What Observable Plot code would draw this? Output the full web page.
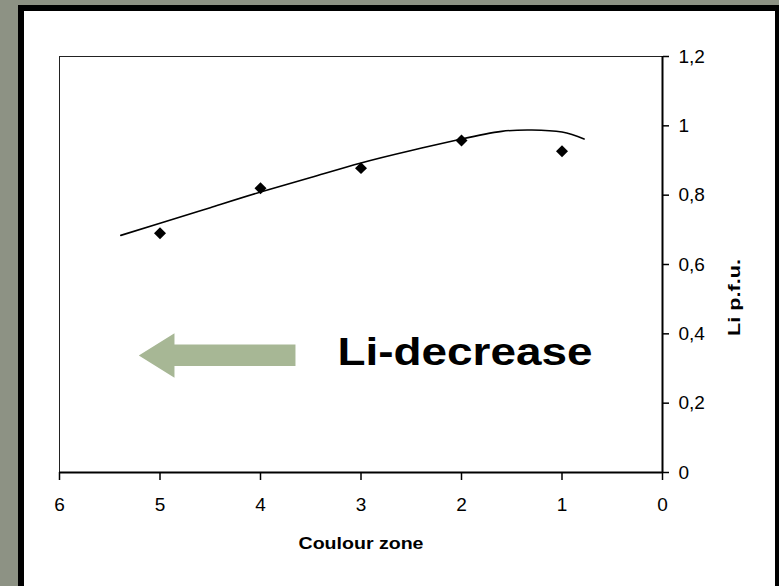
<!DOCTYPE html>
<html>
<head>
<meta charset="utf-8">
<script src="https://cdn.jsdelivr.net/npm/d3@7"></script>
<script src="https://cdn.jsdelivr.net/npm/@observablehq/plot@0.6"></script>
<style>
  html, body { margin: 0; padding: 0; width: 779px; height: 586px; overflow: hidden; background: #8d9284; }
  #panel { position: absolute; left: 18px; top: 5px; width: 751px; height: 620px; background: #fff;
           border-left: 6px solid #000; border-top: 6px solid #000; border-right: 6px solid #000; }
  #chart { position: absolute; left: 0; top: 0; }
  #chart svg, #chart svg text { font-family: "Liberation Sans", Arial, sans-serif !important; }
</style>
</head>
<body>
<div id="panel"></div>
<div id="chart"></div>
<script>
// Measured points (colour zone vs Li p.f.u.)
const zone = [5, 4, 3, 2, 1];
const li = [0.69, 0.82, 0.878, 0.958, 0.927];

// Trend line
const trendZone = [5.39, 5, 4.5, 4, 3.5, 3, 2.5, 2, 1.6, 1.3, 1, 0.78];
const trendLi = [0.684, 0.719, 0.764, 0.809, 0.851, 0.893, 0.929, 0.962, 0.984, 0.988, 0.982, 0.962];

// Tick values
const xTicks = [6, 5, 4, 3, 2, 1, 0];
const yTicks = [0, 0.2, 0.4, 0.6, 0.8, 1, 1.2];

// Annotation: arrow outline (data coordinates) and label
const arrowZone = [5.211, 4.856, 4.856, 3.652, 3.652, 4.856, 4.856, 5.211];
const arrowLi = [0.3375, 0.402, 0.369, 0.369, 0.307, 0.307, 0.273, 0.3375];
const noteText = ["Li-decrease"];
const noteZone = [3.234];
const noteLi = [0.309];

const xLabel = "Coulour zone";
const yLabel = "Li p.f.u.";

const points = zone.map((z, i) => ({z, v: li[i]}));
const trend = trendZone.map((z, i) => ({z, v: trendLi[i]}));
const arrow = arrowZone.map((z, i) => ({z, v: arrowLi[i]}));
const notes = noteText.map((t, i) => ({t, z: noteZone[i], v: noteLi[i]}));

const fmt = d => String(+d.toFixed(1)).replace(".", ",");

const plot = Plot.plot({
  width: 779,
  height: 586,
  marginLeft: 59,
  marginRight: 117,
  marginTop: 56,
  marginBottom: 114,
  style: {background: "transparent", fontSize: "19px", color: "#000"},
  x: {domain: [6, 0]},
  y: {domain: [0, 1.2]},
  marks: [
    Plot.ruleY([1.2], {stroke: "#222", strokeWidth: 1}),
    Plot.ruleX([6], {stroke: "#222", strokeWidth: 1}),
    Plot.line(arrow, {x: "z", y: "v", fill: "#a7b795", stroke: "none", curve: "linear"}),
    Plot.line(trend, {x: "z", y: "v", stroke: "#000", strokeWidth: 1.6, curve: "natural"}),
    Plot.dot(points, {x: "z", y: "v", symbol: "diamond2", r: 5.4, fill: "#000", stroke: "none"}),
    Plot.text(notes, {x: "z", y: "v", text: "t", textAnchor: "start", lineAnchor: "bottom", fontSize: 38, fontWeight: "bold", fill: "#000"}),
    Plot.axisX({ticks: xTicks, tickSize: 8, tickPadding: 17, strokeWidth: 1.5, label: null, tickFormat: d => String(d)}),
    Plot.axisY({anchor: "right", ticks: yTicks, tickSize: 6, tickPadding: 10, strokeWidth: 1.5, label: null, tickFormat: fmt}),
    Plot.ruleY([0], {stroke: "#000", strokeWidth: 2}),
    Plot.ruleX([0], {stroke: "#000", strokeWidth: 2}),
    Plot.text([xLabel], {frameAnchor: "bottom", dy: 76, lineAnchor: "bottom", fontSize: 16.5, fontWeight: "bold", fill: "#000"}),
    Plot.text([yLabel], {frameAnchor: "right", dx: 72, dy: -5.5, rotate: -90, fontSize: 16.5, fontWeight: "bold", fill: "#000"})
  ]
});

document.getElementById("chart").appendChild(plot);

const svg = d3.select(plot);
svg.selectAll("text").filter(function() { return this.textContent === "Li-decrease"; })
  .attr("textLength", 255).attr("lengthAdjust", "spacingAndGlyphs");
svg.selectAll("text").filter(function() { return this.textContent === "Coulour zone"; })
  .attr("textLength", 125).attr("lengthAdjust", "spacingAndGlyphs");
svg.selectAll("text").filter(function() { return this.textContent === "Li p.f.u."; })
  .attr("textLength", 77).attr("lengthAdjust", "spacingAndGlyphs");
</script>
</body>
</html>
